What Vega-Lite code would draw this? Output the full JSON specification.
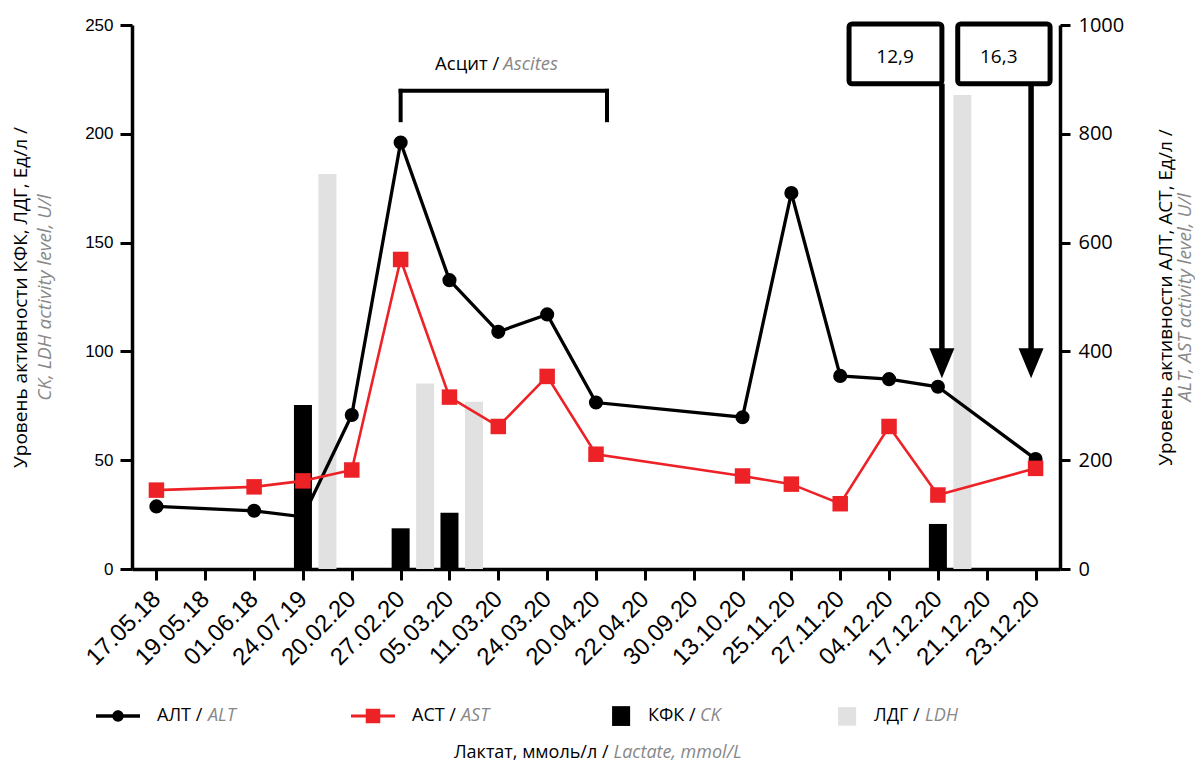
{
  "$schema": "https://vega.github.io/schema/vega-lite/v6.json",
  "width": 928,
  "height": 544,
  "autosize": {"type": "none"},
  "padding": {"left": 132, "top": 25, "right": 135, "bottom": 196},
  "background": "white",
  "config": {
    "view": {"stroke": null},
    "axis": {"grid": false, "domainColor": "black", "tickColor": "black", "labelColor": "black", "titleColor": "black", "titleFontWeight": "normal"}
  },
  "datasets": {
    "d": [
      {"date": "17.05.18", "alt": 115, "ast": 145, "ck": null, "ldh": null},
      {"date": "19.05.18", "alt": null, "ast": null, "ck": null, "ldh": null},
      {"date": "01.06.18", "alt": 107, "ast": 151, "ck": null, "ldh": null},
      {"date": "24.07.19", "alt": 96, "ast": 162, "ck": 75.4, "ldh": 181.5},
      {"date": "20.02.20", "alt": 283, "ast": 182, "ck": null, "ldh": null},
      {"date": "27.02.20", "alt": 784, "ast": 569, "ck": 18.7, "ldh": 85.3},
      {"date": "05.03.20", "alt": 531, "ast": 316, "ck": 25.9, "ldh": 76.9},
      {"date": "11.03.20", "alt": 436, "ast": 262, "ck": null, "ldh": null},
      {"date": "24.03.20", "alt": 468, "ast": 354, "ck": null, "ldh": null},
      {"date": "20.04.20", "alt": 306, "ast": 211, "ck": null, "ldh": null},
      {"date": "22.04.20", "alt": null, "ast": null, "ck": null, "ldh": null},
      {"date": "30.09.20", "alt": null, "ast": null, "ck": null, "ldh": null},
      {"date": "13.10.20", "alt": 279, "ast": 171, "ck": null, "ldh": null},
      {"date": "25.11.20", "alt": 691, "ast": 156, "ck": null, "ldh": null},
      {"date": "27.11.20", "alt": 355, "ast": 120, "ck": null, "ldh": null},
      {"date": "04.12.20", "alt": 349, "ast": 262, "ck": null, "ldh": null},
      {"date": "17.12.20", "alt": 335, "ast": 136, "ck": 20.7, "ldh": 217.8},
      {"date": "21.12.20", "alt": null, "ast": null, "ck": null, "ldh": null},
      {"date": "23.12.20", "alt": 202, "ast": 185, "ck": null, "ldh": null}
    ]
  },
  "data": {"name": "d"},
  "resolve": {"scale": {"y": "independent", "color": "independent", "shape": "independent"}, "axis": {"x": "independent"}},
  "layer": [
    {
      "layer": [
        {
          "transform": [{"filter": "isValid(datum.ck)"}],
          "mark": {"type": "bar", "color": "black", "width": 18},
          "encoding": {
            "x": {"field": "date", "type": "ordinal", "sort": null,
              "scale": {"type": "point", "padding": 0.5, "domain": ["17.05.18","19.05.18","01.06.18","24.07.19","20.02.20","27.02.20","05.03.20","11.03.20","24.03.20","20.04.20","22.04.20","30.09.20","13.10.20","25.11.20","27.11.20","04.12.20","17.12.20","21.12.20","23.12.20"]},
              "axis": {"orient": "bottom", "title": "Лактат, ммоль/л /", "titleX": 476, "titleY": 183, "titleAlign": "right", "titleBaseline": "middle", "titleFont": "Open Sans", "titleFontSize": 18, "labelAngle": -45, "labelAlign": "right", "labelBaseline": "middle", "labelFont": "Liberation Sans", "labelFontSize": 24, "labelPadding": 15, "labelOverlap": false, "labelFlush": false, "labelBound": false, "tickSize": 11, "tickWidth": 3, "domainWidth": 3.5}},
            "y": {"field": "ck", "type": "quantitative", "scale": {"domain": [0, 250], "nice": false},
              "axis": {"orient": "left", "values": [0, 50, 100, 150, 200, 250], "title": "Уровень активности КФК, ЛДГ, Ед/л /", "titleX": -112, "titleY": 272, "titleAngle": -90, "titleAlign": "center", "titleBaseline": "middle", "titleFont": "Open Sans", "titleFontSize": 19, "labelFont": "Liberation Sans", "labelFontSize": 17, "labelPadding": 7, "tickSize": 12, "tickWidth": 3, "domainWidth": 3.5, "labelFlush": false, "labelOverlap": false}}
          }
        },
        {
          "transform": [{"filter": "isValid(datum.ldh)"}],
          "mark": {"type": "bar", "color": "#e1e1e1", "width": 18, "xOffset": 24.5},
          "encoding": {
            "x": {"field": "date", "type": "ordinal", "sort": null,
              "scale": {"type": "point", "padding": 0.5, "domain": ["17.05.18","19.05.18","01.06.18","24.07.19","20.02.20","27.02.20","05.03.20","11.03.20","24.03.20","20.04.20","22.04.20","30.09.20","13.10.20","25.11.20","27.11.20","04.12.20","17.12.20","21.12.20","23.12.20"]},
              "axis": {"orient": "bottom", "title": "Лактат, ммоль/л /", "titleX": 476, "titleY": 183, "titleAlign": "right", "titleBaseline": "middle", "titleFont": "Open Sans", "titleFontSize": 18, "labelAngle": -45, "labelAlign": "right", "labelBaseline": "middle", "labelFont": "Liberation Sans", "labelFontSize": 24, "labelPadding": 15, "labelOverlap": false, "labelFlush": false, "labelBound": false, "tickSize": 11, "tickWidth": 3, "domainWidth": 3.5}},
            "y": {"field": "ldh", "type": "quantitative", "scale": {"domain": [0, 250], "nice": false},
              "axis": {"orient": "left", "values": [0, 50, 100, 150, 200, 250], "title": "Уровень активности КФК, ЛДГ, Ед/л /", "titleX": -112, "titleY": 272, "titleAngle": -90, "titleAlign": "center", "titleBaseline": "middle", "titleFont": "Open Sans", "titleFontSize": 19, "labelFont": "Liberation Sans", "labelFontSize": 17, "labelPadding": 7, "tickSize": 12, "tickWidth": 3, "domainWidth": 3.5, "labelFlush": false, "labelOverlap": false}}
          }
        }
      ]
    },
    {
      "encoding": {
        "x": {"field": "date", "type": "ordinal", "sort": null, "axis": null}
      },
      "layer": [
        {
          "transform": [{"filter": "isValid(datum.alt)"}],
          "mark": {"type": "line", "color": "black", "strokeWidth": 3.3},
          "encoding": {
            "y": {"field": "alt", "type": "quantitative", "scale": {"domain": [0, 1000], "nice": false},
              "axis": {"orient": "right", "values": [0, 200, 400, 600, 800, 1000], "format": "d", "title": "Уровень активности АЛТ, АСТ, Ед/л /", "titleX": 105, "titleY": 272, "titleAngle": -90, "titleAlign": "center", "titleBaseline": "middle", "titleFont": "Open Sans", "titleFontSize": 19, "labelFont": "Open Sans", "labelFontSize": 20, "labelPadding": 8, "tickSize": 10, "tickWidth": 3, "domainWidth": 3.5, "labelFlush": false, "labelOverlap": false}}
          }
        },
        {
          "transform": [{"filter": "isValid(datum.alt)"}],
          "mark": {"type": "point", "shape": "circle", "filled": true, "opacity": 1, "size": 200, "color": "black"},
          "encoding": {
            "y": {"field": "alt", "type": "quantitative", "scale": {"domain": [0, 1000], "nice": false},
              "axis": {"orient": "right", "values": [0, 200, 400, 600, 800, 1000], "format": "d", "title": "Уровень активности АЛТ, АСТ, Ед/л /", "titleX": 105, "titleY": 272, "titleAngle": -90, "titleAlign": "center", "titleBaseline": "middle", "titleFont": "Open Sans", "titleFontSize": 19, "labelFont": "Open Sans", "labelFontSize": 20, "labelPadding": 8, "tickSize": 10, "tickWidth": 3, "domainWidth": 3.5, "labelFlush": false, "labelOverlap": false}}
          }
        },
        {
          "transform": [{"filter": "isValid(datum.ast)"}],
          "mark": {"type": "line", "color": "#ec2227", "strokeWidth": 2.6},
          "encoding": {
            "y": {"field": "ast", "type": "quantitative", "scale": {"domain": [0, 1000], "nice": false},
              "axis": {"orient": "right", "values": [0, 200, 400, 600, 800, 1000], "format": "d", "title": "Уровень активности АЛТ, АСТ, Ед/л /", "titleX": 105, "titleY": 272, "titleAngle": -90, "titleAlign": "center", "titleBaseline": "middle", "titleFont": "Open Sans", "titleFontSize": 19, "labelFont": "Open Sans", "labelFontSize": 20, "labelPadding": 8, "tickSize": 10, "tickWidth": 3, "domainWidth": 3.5, "labelFlush": false, "labelOverlap": false}}
          }
        },
        {
          "transform": [{"filter": "isValid(datum.ast)"}],
          "mark": {"type": "point", "shape": "square", "filled": true, "opacity": 1, "size": 240, "color": "#ec2227"},
          "encoding": {
            "y": {"field": "ast", "type": "quantitative", "scale": {"domain": [0, 1000], "nice": false},
              "axis": {"orient": "right", "values": [0, 200, 400, 600, 800, 1000], "format": "d", "title": "Уровень активности АЛТ, АСТ, Ед/л /", "titleX": 105, "titleY": 272, "titleAngle": -90, "titleAlign": "center", "titleBaseline": "middle", "titleFont": "Open Sans", "titleFontSize": 19, "labelFont": "Open Sans", "labelFontSize": 20, "labelPadding": 8, "tickSize": 10, "tickWidth": 3, "domainWidth": 3.5, "labelFlush": false, "labelOverlap": false}}
          }
        }
      ]
    },
    {
      "data": {"values": [{}]},
      "layer": [
        {
          "mark": {"type": "rule", "color": "black", "strokeWidth": 4, "strokeCap": "square", "x2Offset": 11},
          "encoding": {
            "x": {"datum": "27.02.20", "type": "ordinal", "axis": null},
            "x2": {"datum": "20.04.20"},
            "y": {"datum": 879, "type": "quantitative", "scale": {"domain": [0, 1000], "nice": false}, "axis": null}
          }
        },
        {
          "mark": {"type": "rule", "color": "black", "strokeWidth": 4, "strokeCap": "square"},
          "encoding": {
            "x": {"datum": "27.02.20", "type": "ordinal", "axis": null},
            "y": {"datum": 879, "type": "quantitative", "scale": {"domain": [0, 1000], "nice": false}, "axis": null},
            "y2": {"datum": 825}
          }
        },
        {
          "mark": {"type": "rule", "color": "black", "strokeWidth": 4, "strokeCap": "square", "xOffset": 11},
          "encoding": {
            "x": {"datum": "20.04.20", "type": "ordinal", "axis": null},
            "y": {"datum": 879, "type": "quantitative", "scale": {"domain": [0, 1000], "nice": false}, "axis": null},
            "y2": {"datum": 825}
          }
        },
        {
          "mark": {"type": "text", "text": "Асцит /", "align": "right", "baseline": "middle", "dx": 1, "font": "Open Sans", "fontSize": 18.5, "color": "black"},
          "encoding": {
            "x": {"datum": "11.03.20", "type": "ordinal", "axis": null},
            "y": {"datum": 928, "type": "quantitative", "scale": {"domain": [0, 1000], "nice": false}, "axis": null}
          }
        },
        {
          "mark": {"type": "text", "text": "Ascites", "align": "left", "baseline": "middle", "dx": 5, "font": "Open Sans", "fontSize": 18.5, "fontStyle": "italic", "color": "#888888"},
          "encoding": {
            "x": {"datum": "11.03.20", "type": "ordinal", "axis": null},
            "y": {"datum": 928, "type": "quantitative", "scale": {"domain": [0, 1000], "nice": false}, "axis": null}
          }
        },
        {
          "mark": {"type": "rule", "color": "black", "strokeWidth": 5.5, "xOffset": 4},
          "encoding": {
            "x": {"datum": "17.12.20", "type": "ordinal", "axis": null},
            "y": {"datum": 892, "type": "quantitative", "scale": {"domain": [0, 1000], "nice": false}, "axis": null},
            "y2": {"datum": 400}
          }
        },
        {
          "mark": {"type": "rule", "color": "black", "strokeWidth": 5.5, "xOffset": -4.5},
          "encoding": {
            "x": {"datum": "23.12.20", "type": "ordinal", "axis": null},
            "y": {"datum": 892, "type": "quantitative", "scale": {"domain": [0, 1000], "nice": false}, "axis": null},
            "y2": {"datum": 400}
          }
        },
        {
          "mark": {"type": "point", "shape": "M-1,-1.2L1,-1.2L0,1.2Z", "filled": true, "opacity": 1, "size": 625, "color": "black", "xOffset": 4},
          "encoding": {
            "x": {"datum": "17.12.20", "type": "ordinal", "axis": null},
            "y": {"datum": 378, "type": "quantitative", "scale": {"domain": [0, 1000], "nice": false}, "axis": null}
          }
        },
        {
          "mark": {"type": "point", "shape": "M-1,-1.2L1,-1.2L0,1.2Z", "filled": true, "opacity": 1, "size": 625, "color": "black", "xOffset": -4.5},
          "encoding": {
            "x": {"datum": "23.12.20", "type": "ordinal", "axis": null},
            "y": {"datum": 378, "type": "quantitative", "scale": {"domain": [0, 1000], "nice": false}, "axis": null}
          }
        },
        {
          "mark": {"type": "rect", "fill": "white", "stroke": "black", "strokeWidth": 5, "cornerRadius": 3, "xOffset": -40, "x2Offset": 4},
          "encoding": {
            "x": {"datum": "04.12.20", "type": "ordinal", "axis": null},
            "x2": {"datum": "17.12.20"},
            "y": {"datum": 1002, "type": "quantitative", "scale": {"domain": [0, 1000], "nice": false}, "axis": null},
            "y2": {"datum": 892}
          }
        },
        {
          "mark": {"type": "rect", "fill": "white", "stroke": "black", "strokeWidth": 5, "cornerRadius": 3, "xOffset": -29, "x2Offset": 14.5},
          "encoding": {
            "x": {"datum": "21.12.20", "type": "ordinal", "axis": null},
            "x2": {"datum": "23.12.20"},
            "y": {"datum": 1002, "type": "quantitative", "scale": {"domain": [0, 1000], "nice": false}, "axis": null},
            "y2": {"datum": 892}
          }
        },
        {
          "mark": {"type": "text", "text": "12,9", "align": "center", "baseline": "middle", "dx": 6, "font": "Open Sans", "fontSize": 19, "color": "black"},
          "encoding": {
            "x": {"datum": "04.12.20", "type": "ordinal", "axis": null},
            "y": {"datum": 942, "type": "quantitative", "scale": {"domain": [0, 1000], "nice": false}, "axis": null}
          }
        },
        {
          "mark": {"type": "text", "text": "16,3", "align": "center", "baseline": "middle", "dx": 12, "font": "Open Sans", "fontSize": 19, "color": "black"},
          "encoding": {
            "x": {"datum": "21.12.20", "type": "ordinal", "axis": null},
            "y": {"datum": 942, "type": "quantitative", "scale": {"domain": [0, 1000], "nice": false}, "axis": null}
          }
        }
      ]
    },
    {
      "transform": [{"filter": "false"}],
      "mark": {"type": "point", "filled": true, "opacity": 1},
      "encoding": {
        "x": {"field": "date", "type": "ordinal", "sort": null,
          "axis": {"orient": "bottom", "title": "Lactate, mmol/L", "titleX": 481, "titleY": 183, "titleAlign": "left", "titleBaseline": "middle", "titleFont": "Open Sans", "titleFontSize": 18, "titleFontStyle": "italic", "titleColor": "#888888", "labels": false, "ticks": false, "domain": false}},
        "y": {"field": "ck", "type": "quantitative", "scale": {"domain": [0, 250], "nice": false},
          "axis": {"orient": "left", "title": "CK, LDH activity level, U/l", "titleX": -88, "titleY": 272, "titleAngle": -90, "titleAlign": "center", "titleBaseline": "middle", "titleFont": "Open Sans", "titleFontSize": 19, "titleFontStyle": "italic", "titleColor": "#888888", "labels": false, "ticks": false, "domain": false}},
        "color": {"field": "s1", "type": "nominal",
          "scale": {"domain": ["АЛТ /", "АСТ /"], "range": ["black", "#ec2227"]},
          "legend": {"title": null, "orient": "none", "legendX": -36, "legendY": 669, "direction": "horizontal", "symbolSize": 1936, "symbolStrokeWidth": 0, "symbolOpacity": 1, "labelFont": "Open Sans", "labelFontSize": 18, "labelColor": "black", "labelOffset": 17, "columnPadding": 148, "labelLimit": 400}},
        "shape": {"field": "s1", "type": "nominal",
          "scale": {"domain": ["АЛТ /", "АСТ /"], "range": ["M-1,-0.08H1V0.08H-1Z M0.26,0A0.26,0.26 0 1,1 -0.26,0A0.26,0.26 0 1,1 0.26,0Z", "M-1,-0.068H1V0.068H-1Z M-0.33,-0.33H0.33V0.33H-0.33Z"]},
          "legend": {"title": null, "orient": "none", "legendX": -36, "legendY": 669, "direction": "horizontal", "symbolSize": 1936, "symbolStrokeWidth": 0, "symbolOpacity": 1, "labelFont": "Open Sans", "labelFontSize": 18, "labelColor": "black", "labelOffset": 17, "columnPadding": 148, "labelLimit": 400}}
      }
    },
    {
      "transform": [{"filter": "false"}],
      "mark": {"type": "point", "filled": true, "opacity": 1},
      "encoding": {
        "y": {"field": "alt", "type": "quantitative", "scale": {"domain": [0, 1000], "nice": false},
          "axis": {"orient": "right", "title": "ALT, AST activity level, U/l", "titleX": 124, "titleY": 272, "titleAngle": -90, "titleAlign": "center", "titleBaseline": "middle", "titleFont": "Open Sans", "titleFontSize": 19, "titleFontStyle": "italic", "titleColor": "#888888", "labels": false, "ticks": false, "domain": false}},
        "color": {"field": "s3", "type": "nominal",
          "scale": {"domain": ["КФК /", "ЛДГ /"], "range": ["black", "#e1e1e1"]},
          "legend": {"title": null, "orient": "none", "legendX": 455, "legendY": 669, "direction": "horizontal", "symbolSize": 1936, "symbolStrokeWidth": 0, "symbolOpacity": 1, "labelFont": "Open Sans", "labelFontSize": 18, "labelColor": "black", "labelOffset": 17, "columnPadding": 117, "labelLimit": 400}},
        "shape": {"field": "s3", "type": "nominal",
          "scale": {"domain": ["КФК /", "ЛДГ /"], "range": ["M0.14,-0.45H0.96V0.45H0.14Z", "M0.14,-0.42H0.96V0.42H0.14Z"]},
          "legend": {"title": null, "orient": "none", "legendX": 455, "legendY": 669, "direction": "horizontal", "symbolSize": 1936, "symbolStrokeWidth": 0, "symbolOpacity": 1, "labelFont": "Open Sans", "labelFontSize": 18, "labelColor": "black", "labelOffset": 17, "columnPadding": 117, "labelLimit": 400}}
      }
    },
    {
      "transform": [{"filter": "false"}],
      "mark": {"type": "point", "filled": true, "opacity": 1},
      "encoding": {
        "color": {"field": "s2", "type": "nominal",
          "scale": {"domain": ["ALT", "AST"], "range": ["transparent", "transparent"]},
          "legend": {"title": null, "orient": "none", "legendX": -36, "legendY": 669, "direction": "horizontal", "symbolSize": 1936, "symbolStrokeWidth": 0, "labelFont": "Open Sans", "labelFontSize": 18, "labelFontStyle": "italic", "labelColor": "#888888", "labelOffset": 68, "columnPadding": 113, "labelLimit": 400}}
      }
    },
    {
      "transform": [{"filter": "false"}],
      "mark": {"type": "point", "filled": true, "opacity": 1},
      "encoding": {
        "color": {"field": "s4", "type": "nominal",
          "scale": {"domain": ["CK", "LDH"], "range": ["transparent", "transparent"]},
          "legend": {"title": null, "orient": "none", "legendX": 455, "legendY": 669, "direction": "horizontal", "symbolSize": 1936, "symbolStrokeWidth": 0, "labelFont": "Open Sans", "labelFontSize": 18, "labelFontStyle": "italic", "labelColor": "#888888", "labelOffset": 69, "columnPadding": 91, "labelLimit": 400}}
      }
    }
  ]
}
